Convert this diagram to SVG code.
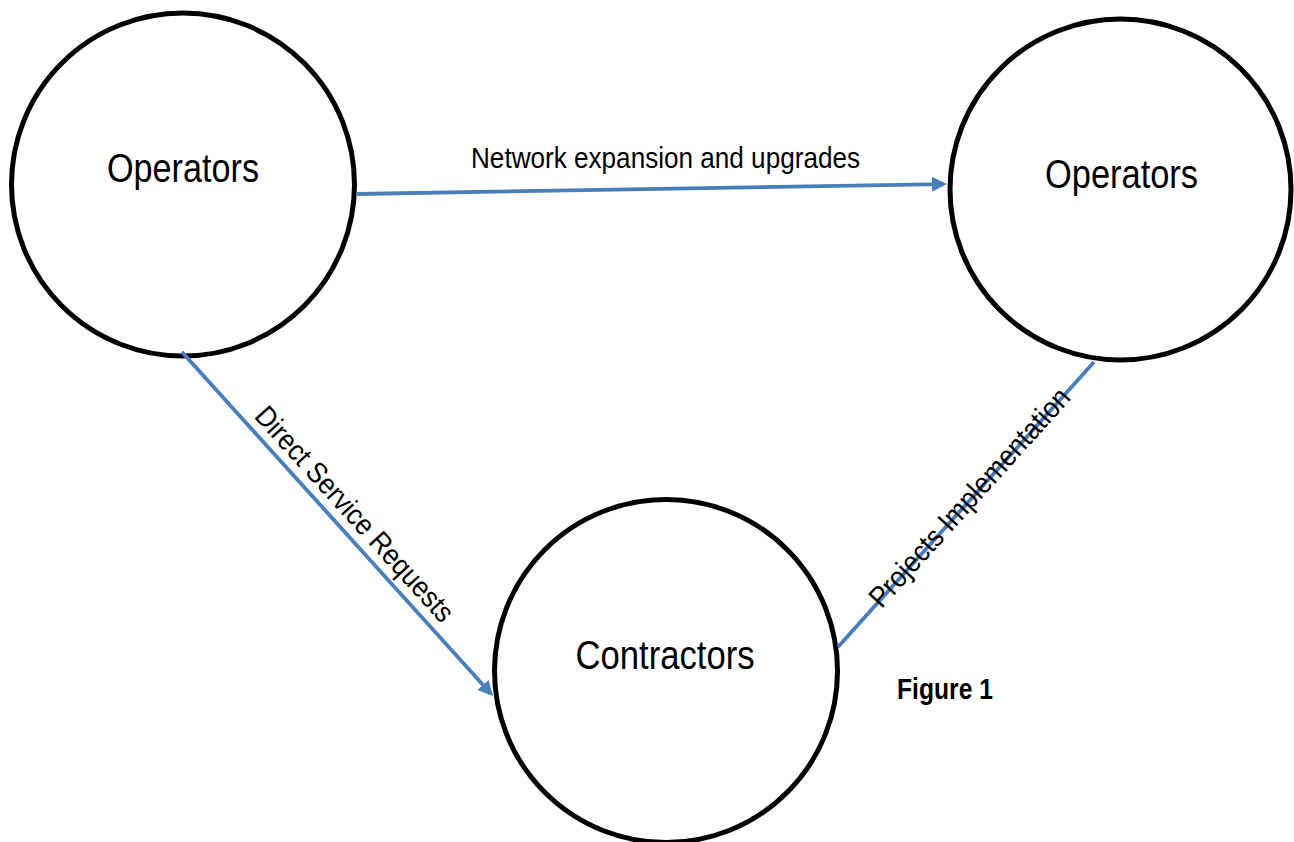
<svg xmlns="http://www.w3.org/2000/svg" width="1294" height="842" viewBox="0 0 1294 842">
  <style>
    .node { fill: #ffffff; stroke: #000000; stroke-width: 5; }
    .nlabel { font-family: "Liberation Sans Narrow", "Liberation Sans", Arial, sans-serif; font-size: 40px; fill: #000000; text-anchor: middle; }
    .conn { stroke: #4A7EBB; stroke-width: 3.8; fill: none; }
    .elabel { font-family: "Liberation Sans Narrow", "Liberation Sans", Arial, sans-serif; font-size: 29px; fill: #000000; text-anchor: middle; }
    .caption { font-family: "Liberation Sans Narrow", "Liberation Sans", Arial, sans-serif; font-size: 29px; font-weight: bold; fill: #000000; }
  </style>
  <defs>
    <marker id="arrow" markerUnits="userSpaceOnUse" markerWidth="16" markerHeight="16" refX="12" refY="7.5" orient="auto">
      <path d="M0,0 L15,7.5 L0,15 z" fill="#4A7EBB"/>
    </marker>
  </defs>
  <rect x="0" y="0" width="1294" height="842" fill="#ffffff"/>

  <g id="node-operators-left">
    <circle class="node" cx="183" cy="184.5" r="171.5"/>
    <text class="nlabel" x="183" y="182" textLength="152" lengthAdjust="spacingAndGlyphs">Operators</text>
  </g>
  <g id="node-operators-right">
    <circle class="node" cx="1120.5" cy="189.5" r="170.5"/>
    <text class="nlabel" x="1121.5" y="188" textLength="153" lengthAdjust="spacingAndGlyphs">Operators</text>
  </g>
  <g id="node-contractors">
    <circle class="node" cx="666" cy="671" r="171.5"/>
    <text class="nlabel" x="665" y="669" textLength="179" lengthAdjust="spacingAndGlyphs">Contractors</text>
  </g>

  <g id="connectors">
    <line class="conn" x1="357" y1="194" x2="944" y2="184.05" marker-end="url(#arrow)"/>
    <line class="conn" x1="182" y1="352" x2="491" y2="693.8" marker-end="url(#arrow)"/>
    <line class="conn" x1="838" y1="647" x2="1094" y2="362"/>
    <text class="elabel" x="665.5" y="168" textLength="389" lengthAdjust="spacingAndGlyphs">Network expansion and upgrades</text>
    <text class="elabel" x="0" y="0" transform="translate(347.4,520.6) rotate(47.7)" textLength="280" lengthAdjust="spacingAndGlyphs">Direct Service Requests</text>
    <text class="elabel" x="0" y="0" transform="translate(976.7,504) rotate(-47.9)" textLength="284" lengthAdjust="spacingAndGlyphs">Projects Implementation</text>
  </g>

  <g id="caption">
    <text class="caption" x="897" y="699" textLength="96" lengthAdjust="spacingAndGlyphs">Figure 1</text>
  </g>
</svg>
